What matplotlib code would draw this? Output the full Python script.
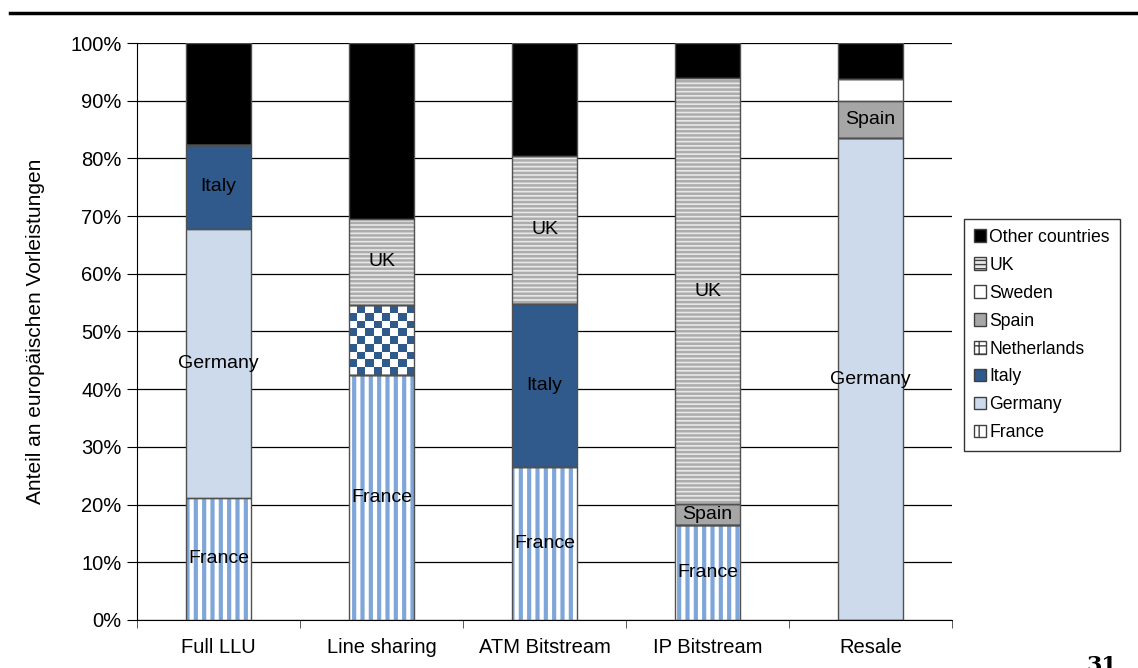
import numpy as np
import matplotlib.pyplot as plt
from matplotlib.colors import ListedColormap
from matplotlib.patches import Patch

plt.rcParams['font.family'] = ['Liberation Sans', 'DejaVu Sans']

categories = ['Full LLU', 'Line sharing', 'ATM Bitstream', 'IP Bitstream', 'Resale']
france = [21.2, 42.5, 26.5, 16.4, 0]
germany = [46.6, 0, 0, 0, 83.5]
italy = [14.5, 0, 28.3, 0, 0]
netherlands = [0, 12.1, 0, 0, 0]
spain = [0, 0, 0, 3.7, 6.5]
sweden = [0, 0, 0, 0, 3.8]
uk = [0, 14.9, 25.6, 73.8, 0]
other = [17.7, 30.5, 19.6, 6.1, 6.2]

# name, values, face, hatch, hatch colour, hatch lw, show label in bar
series = [
    ('France', france, 'white', '||', '#7ea6d8', 3.0, True),
    ('Germany', germany, '#ccdaeb', None, None, 0, True),
    ('Italy', italy, '#2f5a8b', None, None, 0, True),
    ('Netherlands', netherlands, 'white', None, None, 0, False),
    ('Spain', spain, '#a6a6a6', None, None, 0, True),
    ('Sweden', sweden, 'white', None, None, 0, False),
    ('UK', uk, '#e8e8e8', '----', '#acacac', 1.8, True),
    ('Other countries', other, 'black', None, None, 0, False),
]

fig = plt.figure(figsize=(11.38, 6.68), dpi=100)
ax = fig.add_axes([0.1204, 0.0719, 0.7162, 0.8637])

x = np.arange(len(categories))
width = 0.4
bottom = np.zeros(len(categories))
ax.set_axisbelow(True)
ax.yaxis.grid(True, color='black', linewidth=0.9)

handles = []
for name, vals, face, hatch, hcol, hlw, show in series:
    vals = np.array(vals, dtype=float)
    bars = ax.bar(x, vals, width, bottom=bottom, color=face,
                  edgecolor=hcol if hcol else face, linewidth=0,
                  hatch=hatch, zorder=2)
    if hatch:
        for b in bars:
            b.set_hatch_linewidth(hlw)
    ax.bar(x, vals, width, bottom=bottom, fill=False,
           edgecolor='#505050', linewidth=1.0, zorder=3)
    if name == 'Netherlands':
        for b in bars:
            if b.get_height() <= 0:
                continue
            nx, ny = 8, 9
            checker = (np.add.outer(np.arange(ny), np.arange(nx)) % 2)
            im = ax.imshow(checker, cmap=ListedColormap(['white', '#2f5a8b']),
                           extent=[b.get_x(), b.get_x() + b.get_width(),
                                   b.get_y(), b.get_y() + b.get_height()],
                           aspect='auto', interpolation='nearest', zorder=2.5)
            im.set_clip_path(b)
    if show:
        for xi, v, bt in zip(x, vals, bottom):
            if v > 0:
                ax.text(xi, bt + v / 2, name, ha='center', va='center',
                        fontsize=14, zorder=4)
    if name == 'Netherlands':
        h = Patch(facecolor='white', edgecolor='#2f5a8b', hatch='++', linewidth=0)
    else:
        h = Patch(facecolor=face, edgecolor=hcol if hcol else face,
                  hatch=hatch, linewidth=0)
    handles.append((h, name))
    bottom = bottom + vals

ax.set_xlim(-0.5, len(categories) - 0.5)
ax.set_ylim(0, 100)
ax.set_yticks(np.arange(0, 101, 10))
ax.set_yticklabels([f'{v}%' for v in range(0, 101, 10)], fontsize=14.5)
ax.set_xticks(x)
ax.set_xticklabels(categories, fontsize=14.5)
ax.tick_params(axis='x', length=0, pad=13)
ax.set_xticks(np.arange(-0.5, len(categories) + 0.5, 1), minor=True)
ax.tick_params(axis='x', which='minor', length=6, direction='out', color='#404040')
ax.tick_params(axis='y', length=7, direction='out', pad=4)
for s in ['top', 'right']:
    ax.spines[s].set_visible(False)
ax.spines['left'].set_color('black')
ax.spines['bottom'].set_color('black')
ax.set_ylabel('Anteil an europäischen Vorleistungen', fontsize=15, labelpad=18)

leg_handles = [h for h, _ in handles][::-1]
leg_labels = [n for _, n in handles][::-1]
leg = fig.legend(leg_handles, leg_labels, loc='upper left',
                 bbox_to_anchor=(0.847, 0.672), fontsize=12.7, frameon=True,
                 fancybox=False, edgecolor='black', handlelength=0.7,
                 handleheight=0.7, handletextpad=0.2, labelspacing=0.62,
                 borderpad=0.55, borderaxespad=0)
for h in leg.legend_handles:
    h.set_edgecolor('#404040')
    h.set_linewidth(1.0)

fig.add_artist(plt.Line2D([0.009, 1.0], [0.981, 0.981], color='black',
                          linewidth=2.5, transform=fig.transFigure))
fig.text(0.968, 0.02, '31', fontsize=16, fontweight='bold', family='DejaVu Serif',
         va='top', ha='center')

fig.savefig('out.png', dpi=100)
